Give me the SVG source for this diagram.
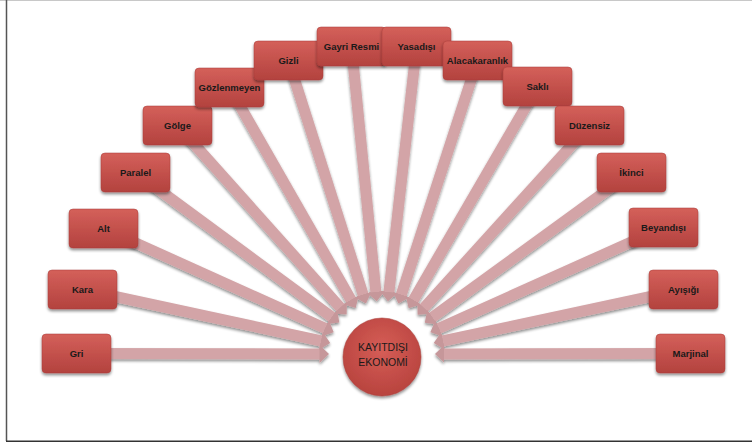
<svg xmlns="http://www.w3.org/2000/svg" width="752" height="446" viewBox="0 0 752 446">
<defs>
<linearGradient id="boxg" x1="0" y1="0" x2="0" y2="1">
<stop offset="0" stop-color="#d4605a"/>
<stop offset="1" stop-color="#b3423e"/>
</linearGradient>
<radialGradient id="circg" cx="0.5" cy="0.4" r="0.6">
<stop offset="0" stop-color="#d65e57"/>
<stop offset="1" stop-color="#b8433e"/>
</radialGradient>
<filter id="sh" x="-20%" y="-20%" width="140%" height="150%">
<feGaussianBlur in="SourceAlpha" stdDeviation="1.5"/>
<feOffset dx="0" dy="2" result="b"/>
<feComponentTransfer><feFuncA type="linear" slope="0.45"/></feComponentTransfer>
<feMerge><feMergeNode/><feMergeNode in="SourceGraphic"/></feMerge>
</filter>
<marker id="ah" markerUnits="userSpaceOnUse" markerWidth="10" markerHeight="18" viewBox="0 0 10 18" refX="0.5" refY="9" orient="auto">
<path d="M0,0 L9.5,9 L0,18 Z" fill="#c6979a"/>
</marker>
<style>
.box{fill:url(#boxg);stroke:#a83d39;stroke-width:0.5;filter:url(#sh)}
.lbl{font-family:"Liberation Sans",Arial,sans-serif;font-weight:bold;font-size:9.5px;fill:#1a1a1a;text-anchor:middle}
.arr{stroke:#d3a4a7;stroke-width:11;fill:none;marker-end:url(#ah)}
.ctext{font-family:"Liberation Sans",Arial,sans-serif;font-size:10.5px;fill:#1a1a1a;text-anchor:middle}
</style>
</defs>
<rect x="0" y="0" width="752" height="446" fill="#ffffff"/>
<line x1="0" y1="0.5" x2="752" y2="0.5" stroke="#c8c8c8" stroke-width="1"/>
<line x1="6.5" y1="0" x2="6.5" y2="441" stroke="#555555" stroke-width="1.5"/>
<line x1="6" y1="441.2" x2="752" y2="441.2" stroke="#333333" stroke-width="1.5"/>

<g id="connectors" filter="url(#sh)">
<line class="arr" x1="76.5" y1="353.5" x2="320" y2="353.9"/>
<line class="arr" x1="82.5" y1="289.5" x2="321.4" y2="341.0"/>
<line class="arr" x1="103.5" y1="228.5" x2="325.5" y2="328.5"/>
<line class="arr" x1="135.5" y1="172.5" x2="332.1" y2="317.2"/>
<line class="arr" x1="177.5" y1="125.5" x2="340.6" y2="307.8"/>
<line class="arr" x1="229.5" y1="87.5" x2="351.2" y2="300.2"/>
<line class="arr" x1="288.5" y1="60.5" x2="363.2" y2="294.9"/>
<line class="arr" x1="351.5" y1="46.5" x2="375.9" y2="292.3"/>
<line class="arr" x1="416.5" y1="46.5" x2="388.9" y2="292.4"/>
<line class="arr" x1="477.5" y1="60.5" x2="401.2" y2="295.0"/>
<line class="arr" x1="537.5" y1="86.5" x2="413.2" y2="300.4"/>
<line class="arr" x1="589.5" y1="125.5" x2="423.7" y2="308.1"/>
<line class="arr" x1="631.5" y1="172.5" x2="432.1" y2="317.5"/>
<line class="arr" x1="663.5" y1="227.5" x2="438.6" y2="328.6"/>
<line class="arr" x1="683.5" y1="289.5" x2="442.6" y2="341.0"/>
<line class="arr" x1="690.5" y1="353.5" x2="444" y2="353.9"/>
</g>

<g id="n-gri"><rect class="box" x="42" y="334" width="69" height="39" rx="4"/><text class="lbl" x="76.5" y="357">Gri</text></g>
<g id="n-kara"><rect class="box" x="48" y="270" width="69" height="39" rx="4"/><text class="lbl" x="82.5" y="293">Kara</text></g>
<g id="n-alt"><rect class="box" x="69" y="209" width="69" height="39" rx="4"/><text class="lbl" x="103.5" y="232">Alt</text></g>
<g id="n-paralel"><rect class="box" x="101" y="153" width="69" height="39" rx="4"/><text class="lbl" x="135.5" y="176">Paralel</text></g>
<g id="n-golge"><rect class="box" x="143" y="106" width="69" height="39" rx="4"/><text class="lbl" x="177.5" y="129">Gölge</text></g>
<g id="n-gozlenmeyen"><rect class="box" x="195" y="68" width="69" height="39" rx="4"/><text class="lbl" x="229.5" y="91">Gözlenmeyen</text></g>
<g id="n-gizli"><rect class="box" x="254" y="41" width="69" height="39" rx="4"/><text class="lbl" x="288.5" y="64">Gizli</text></g>
<g id="n-gayriresmi"><rect class="box" x="317" y="27" width="69" height="39" rx="4"/><text class="lbl" x="351.5" y="50">Gayri Resmi</text></g>
<g id="n-yasadisi"><rect class="box" x="382" y="27" width="69" height="39" rx="4"/><text class="lbl" x="416.5" y="50">Yasadışı</text></g>
<g id="n-alacakaranlik"><rect class="box" x="443" y="41" width="69" height="39" rx="4"/><text class="lbl" x="477.5" y="64">Alacakaranlık</text></g>
<g id="n-sakli"><rect class="box" x="503" y="67" width="69" height="39" rx="4"/><text class="lbl" x="537.5" y="90">Saklı</text></g>
<g id="n-duzensiz"><rect class="box" x="555" y="106" width="69" height="39" rx="4"/><text class="lbl" x="589.5" y="129">Düzensiz</text></g>
<g id="n-ikinci"><rect class="box" x="597" y="153" width="69" height="39" rx="4"/><text class="lbl" x="631.5" y="176">İkinci</text></g>
<g id="n-beyandisi"><rect class="box" x="629" y="208" width="69" height="39" rx="4"/><text class="lbl" x="663.5" y="231">Beyandışı</text></g>
<g id="n-ayisigi"><rect class="box" x="649" y="270" width="69" height="39" rx="4"/><text class="lbl" x="683.5" y="293">Ayışığı</text></g>
<g id="n-marjinal"><rect class="box" x="656" y="334" width="69" height="39" rx="4"/><text class="lbl" x="690.5" y="357">Marjinal</text></g>

<g id="n-center">
<circle cx="382" cy="357" r="39" fill="url(#circg)" stroke="#a83d39" stroke-width="0.5" filter="url(#sh)"/>
<text class="ctext" x="383" y="351">KAYITDIŞI</text>
<text class="ctext" x="383" y="366">EKONOMİ</text>
</g>
</svg>
